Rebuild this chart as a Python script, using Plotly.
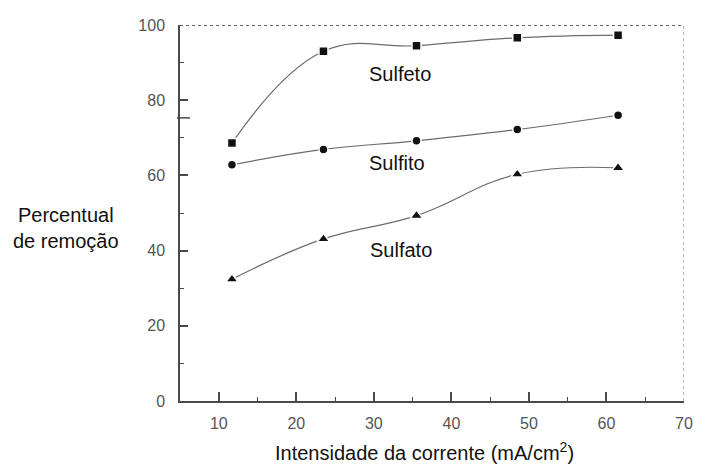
import plotly.graph_objects as go

# Current density (mA/cm²) at which each removal was measured
corrente = [11.7, 23.5, 35.5, 48.5, 61.5]

# Removal percentages per ion
sulfeto = [68.6, 93.0, 94.5, 96.6, 97.3]
sulfito = [62.8, 66.9, 69.2, 72.2, 76.0]
sulfato = [32.4, 43.1, 49.3, 60.3, 62.0]

series = [
    ("Sulfeto", sulfeto, "square", 9),
    ("Sulfito", sulfito, "circle", 9),
    ("Sulfato", sulfato, "triangle-up", 11),
]

# Label positions (x, y) in data units for each curve
rotulos = {"Sulfeto": (29.1, 87.0), "Sulfito": (29.1, 63.3), "Sulfato": (29.2, 40.2)}

x_ticks = [10, 20, 30, 40, 50, 60, 70]
y_ticks = [0, 20, 40, 60, 80, 100]

FONT = "Liberation Sans, Arial, sans-serif"
AXIS = "#4a4a4a"

fig = go.Figure()
for nome, valores, simbolo, tam in series:
    fig.add_trace(go.Scatter(
        x=corrente, y=valores, mode="lines+markers", name=nome,
        line=dict(color="#6b6b6b", width=1.2, shape="spline", smoothing=1.2),
        marker=dict(symbol=simbolo, size=tam, color="#111111",
                    line=dict(color="white", width=1.5)),
        showlegend=False,
    ))

annotations = []
for nome, (ax, ay) in rotulos.items():
    annotations.append(dict(x=ax, y=ay, xref="x", yref="y", text=nome,
                            showarrow=False, xanchor="left", yanchor="middle",
                            font=dict(family=FONT, size=20, color="#111")))

annotations.append(dict(x=-0.2255, y=0.46, xref="paper", yref="paper",
                        text="Percentual<br>de remoção", showarrow=False,
                        xanchor="center", yanchor="middle", align="center",
                        font=dict(family=FONT, size=20, color="#111")))
annotations.append(dict(x=0.485, y=-0.134, xref="paper", yref="paper",
                        text="Intensidade da corrente (mA/cm<sup>2</sup>)",
                        showarrow=False, xanchor="center", yanchor="middle",
                        font=dict(family=FONT, size=20, color="#111")))

shapes = [
    # dotted frame on top and right
    dict(type="line", xref="x", yref="y", x0=5, x1=70, y0=100, y1=100,
         line=dict(color="#3a2a3a", width=1.5, dash="dot")),
    dict(type="line", xref="x", yref="y", x0=70, x1=70, y0=0, y1=100,
         line=dict(color="#888888", width=1.2, dash="dot")),
    # extra long tick on the y axis
    dict(type="line", xref="paper", yref="y", x0=-0.006, x1=0.02, y0=75.3, y1=75.3,
         line=dict(color=AXIS, width=1.5)),
]

fig.update_layout(
    width=705, height=465,
    margin=dict(l=180, r=15, t=25, b=64),
    paper_bgcolor="white", plot_bgcolor="white",
    annotations=annotations, shapes=shapes,
    font=dict(family=FONT),
)
fig.update_xaxes(
    range=[5, 70], tickvals=x_ticks, ticks="inside", ticklen=9, tickwidth=1.5,
    tickcolor=AXIS, showline=True, linecolor=AXIS, linewidth=1.5,
    showgrid=False, zeroline=False, ticklabelstandoff=7,
    tickfont=dict(family=FONT, size=16, color="#555"),
    minor=dict(ticks="inside", ticklen=4, tickwidth=1.2, tickcolor=AXIS, dtick=5, tick0=5),
)
fig.update_yaxes(
    range=[0, 100], tickvals=y_ticks, ticks="inside", ticklen=8, tickwidth=1.5,
    tickcolor=AXIS, showline=True, linecolor=AXIS, linewidth=1.5,
    showgrid=False, zeroline=False, ticklabelstandoff=10,
    tickfont=dict(family=FONT, size=16, color="#555"),
    minor=dict(ticks="inside", ticklen=4, tickwidth=1.2, tickcolor=AXIS, dtick=10, tick0=0),
)

fig.write_html("out.html")
